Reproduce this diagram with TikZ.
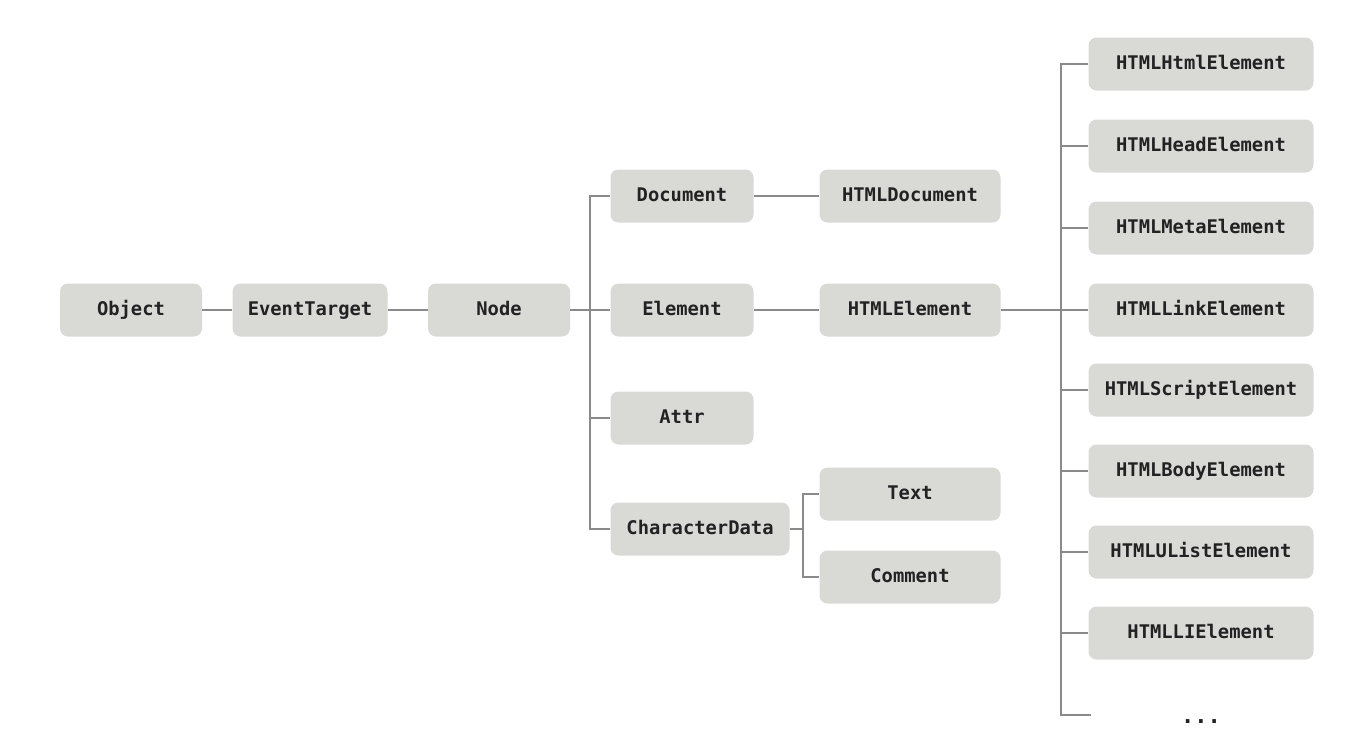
\documentclass[tikz,border=0pt]{standalone}
\usepackage{fontspec}
\setmonofont{DejaVu Sans Mono}
\begin{document}
\begin{tikzpicture}[x=0.5pt,y=-0.5pt,
  box/.style={draw=none,fill=boxgray,rounded corners=4pt,minimum height=26.5pt,
    inner sep=0pt,text height=7pt,text depth=1.8pt,
    font=\ttfamily\bfseries\fontsize{9.4}{11}\selectfont,text=txtdark},
  link/.style={draw=linegray,line width=0.6pt}]
\definecolor{boxgray}{HTML}{D9D9D6}
\definecolor{linegray}{HTML}{8A8A8A}
\definecolor{txtdark}{HTML}{222222}
\useasboundingbox (0,0) rectangle (1348,744);
\node[box,minimum width=71pt] (obj) at (131,310) {Object};
\node[box,minimum width=77.5pt] (evt) at (310,310) {EventTarget};
\node[box,minimum width=71pt] (nod) at (499,310) {Node};
\node[box,minimum width=71.5pt] (doc) at (682,196) {Document};
\node[box,minimum width=71.5pt] (ele) at (682,310) {Element};
\node[box,minimum width=71.5pt] (att) at (682,418) {Attr};
\node[box,minimum width=89.5pt] (chd) at (700,529) {CharacterData};
\node[box,minimum width=90.5pt] (hdoc) at (910,196) {HTMLDocument};
\node[box,minimum width=90.5pt] (hele) at (910,310) {HTMLElement};
\node[box,minimum width=90.5pt] (txt) at (910,494) {Text};
\node[box,minimum width=90.5pt] (com) at (910,577) {Comment};
\node[box,minimum width=112.5pt] (r1) at (1201,64) {HTMLHtmlElement};
\node[box,minimum width=112.5pt] (r2) at (1201,146) {HTMLHeadElement};
\node[box,minimum width=112.5pt] (r3) at (1201,228) {HTMLMetaElement};
\node[box,minimum width=112.5pt] (r4) at (1201,310) {HTMLLinkElement};
\node[box,minimum width=112.5pt] (r5) at (1201,390) {HTMLScriptElement};
\node[box,minimum width=112.5pt] (r6) at (1201,471) {HTMLBodyElement};
\node[box,minimum width=112.5pt] (r7) at (1201,552) {HTMLUListElement};
\node[box,minimum width=112.5pt] (r8) at (1201,633) {HTMLLIElement};
\node[font=\ttfamily\bfseries\fontsize{11}{12}\selectfont,text=txtdark,inner sep=0pt,anchor=base] (dots) at (1201,723) {...};
\coordinate (t1) at (590,310);
\coordinate (t2) at (803,529);
\coordinate (t3) at (1061,310);
\coordinate (dend) at (1091,715);
\draw[link] (obj) -- (evt);
\draw[link] (evt) -- (nod);
\draw[link] (nod.east) -- (t1);
\draw[link] (doc.west) -| (t1) |- (chd.west);
\draw[link] (att.west) -- (att.west -| t1);
\draw[link] (ele.west) -- (t1);
\draw[link] (doc) -- (hdoc);
\draw[link] (ele) -- (hele);
\draw[link] (chd.east) -- (t2);
\draw[link] (txt.west) -| (t2) |- (com.west);
\draw[link] (hele.east) -- (t3);
\draw[link] (r1.west) -| (t3) |- (dend);
\foreach \i in {2,...,8} {\draw[link] (r\i.west) -- (r\i.west -| t3);}
\end{tikzpicture}
\end{document}
